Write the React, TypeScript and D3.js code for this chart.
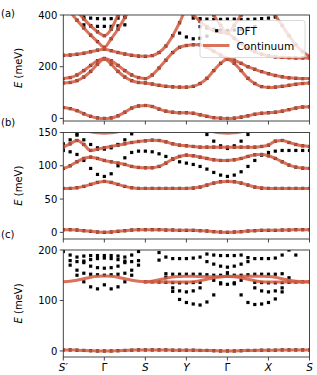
import * as d3 from 'd3';
import React from 'react';

const _ = null;
type Band = (number | null)[];

// k-path S' - Γ - S - Y - Γ - X - S, 6 samples per segment (index 0..36)
const kTickIdx = [0, 6, 12, 18, 24, 30, 36];
const kTickLabels = ["S", "Γ", "S", "Y", "Γ", "X", "S"];
const kTickPrime = [true, false, false, false, false, false, false];
const kTickItalic = [true, false, true, true, false, true, true];

// ---- panel (a) ----
const aTicks = [0, 200, 400];
const a0: Band = [42, 38,30,18,8,2,0, 2,10,24,40,48,50, 46,36,28,24,22,22, 20,14,8,3,1,0, 1,5,10,16,20,22, 24,28,34,40,44,45];
const a1: Band = [137, 139,146,160,182,210,230, 210,182,160,146,139,137, 133,128,124,122,121,121, 124,135,155,185,213,229, 213,185,155,135,123,120, 121,124,128,132,135,137];
const a2: Band = [154, 158,168,185,205,223,232, 223,205,185,168,158,154, 168,195,225,255,275,282, 285,285,275,260,245,232, 225,213,200,190,181,173, 166,161,157,155,154,154];
const a3: Band = [244, 245,248,252,258,264,268, 262,255,249,244,241,240, 243,255,280,320,370,420, 400,375,355,340,333,330, 310,290,272,258,248,242, 238,236,235,234,234,234];
const a4: Band = [_, 412,380,350,322,297,275, 308,345,390,435,_,_, _,_,_,_,_,_, _,_,450,400,360,330, 360,400,440,_,_,_, _,_,_,_,_,_];
const a5: Band = [_, _,415,385,358,335,320, 345,400,450,_,_,_, _,_,_,_,_,_, _,_,_,_,_,_, _,_,_,_,_,460, 400,360,320,285,258,240];
// DFT only
const aD0: Band = [_, _,_,362,358,356,356, 356,358,362,_,_,_, _,_,_,_,_,_, _,_,_,_,_,_, _,_,_,_,_,_, _,_,_,_,_,_];
const aD1: Band = [_, _,_,392,388,386,385, 386,388,392,_,_,_, _,_,_,_,_,_, _,_,_,_,_,_, _,_,_,_,_,_, _,_,_,_,_,_];
const aD2: Band = [_, _,_,_,_,_,_, _,_,_,_,_,_, _,_,_,_,_,_, 388,386,384,383,383,384, 384,383,383,384,386,388, 392,_,_,_,_,_];
const aD3: Band = [_, _,_,_,_,_,_, _,_,_,_,_,_, _,_,_,_,_,_, _,355,350,345,342,340, 342,345,350,355,_,_, _,_,_,_,_,_];
const aD4: Band = [_, _,_,_,_,_,_, _,_,_,_,_,_, _,_,_,_,330,315, 308,310,318,_,_,_, _,_,_,_,_,_, _,_,_,_,_,_];

// ---- panel (b) ----
const bTicks = [0, 50, 100, 150];
const b0: Band = [4, 4,3.5,2.5,1.5,0.5,0, 0.5,1.5,2.5,3.5,4,4, 4,4,3.5,3.5,3,3, 3,2.5,2,1,0.5,0, 0.5,1,2,2.5,3,3, 3,3.5,3.5,4,4,4];
const b1: Band = [66, 66,67,69,72,75,76.5, 75,72,69,67,66,66, 66,66,66,66,66,66, 66.5,68,71,74,76,76.5, 76,74,71,68,66.5,66, 66,66,66,66,66,66];
const b2: Band = [96, 100,106,111,113,111,108, 106,104,102,99,97.5,97, 97,99,104,110,114,116, 115,113,111,109,108,108, 109,111,114,116.5,117,115, 111,106,101,98,96.5,96];
const b3: Band = [128, 133,138,132,123,125,127, 129,131,133,135,136.5,137.5, 138.5,138,136,133,131,130, 129,128,128,128,128,128, 128,128,128,128,129,131, 137,138,135,132,130,129];
const b4: Band = [180, 172,162,155,151,149.5,149, 149.5,151,155,162,172,180, _,_,_,_,_,_, 180,168,158,151,149.5,149, 149.5,151,158,168,180,_, _,_,_,_,_,_];
const bD1: Band = [123, 121,117,108,96,87,84, 88,100,112,120,122,122, 121,118,114,110,106,104, 102,99,95,90,86,84, 86,91,99,108,116,120, 122,123,123,123,123,123];
const bD2: Band = [_, 160,148,139,132,127,125, 127,132,139,148,158,_, _,_,_,_,_,_, _,158,147,137,130,126, 130,137,147,158,_,_, _,_,_,_,_,_];
const bD3: Band = [133, 139,146,153,_,_,_, _,_,_,_,_,_, _,_,_,_,_,_, _,_,_,_,_,_, _,_,_,_,_,_, _,_,_,_,_,_];

// ---- panel (c) ----
const cTicks = [0, 100, 200];
const c0: Band = [2, 2,1.5,1,0.5,0,0, 0,0.5,1,1.5,2,2, 2,2,2,1.5,1.5,1.5, 1.5,1,1,0.5,0,0, 0,0.5,1,1,1.5,1.5, 1.5,2,2,2,2,2];
const c1: Band = [137, 138,140,143,146,148,148.5, 148,146,143,140,138,137, 136.5,136.5,136.5,136.5,136.5,136.5, 137,139,142,145,147,148, 147,145,142,139,137,136.5, 136.5,136.5,136.5,136.5,136.5,137];
const c2: Band = [_, _,_,_,_,_,_, _,_,_,_,_,137, 138,141,144,146.5,147.5,148, 148,147.5,147,147,147,147.5, 148,148,148,148,148,147.5, 146,143,140,138,137,137];
const cL1: Band = [_, _,150,137,127,123,131, 123,127,137,150,_,_, _,_,_,_,_,_, _,_,_,_,_,_, _,_,_,_,_,_, _,_,_,_,_,_];
const cL2: Band = [_, 170,160,154,152,151,150, 151,152,154,160,170,_, _,_,_,_,_,_, _,_,_,_,_,_, _,_,_,_,_,_, _,_,_,_,_,_];
const cL3: Band = [_, _,_,175,168,165,164, 165,168,175,_,_,_, _,_,_,_,_,_, _,_,_,_,_,_, _,_,_,_,_,_, _,_,_,_,_,_];
const cL4: Band = [197, 190,186,188,189,189,189, 189,188,186,190,197,_, _,_,_,_,_,_, _,_,_,_,_,_, _,_,_,_,_,_, _,_,_,_,_,_];
const cL5: Band = [_, 179,177,178,181,183,184, 183,181,178,177,179,_, _,_,_,_,_,_, _,_,_,_,_,_, _,_,_,_,_,_, _,_,_,_,_,_];
const cW: Band = [_, _,_,_,_,_,_, _,_,_,_,_,_, 240,180,146,118,102,96, 93,91,97,111,133,155, 133,111,96,92,93,96, 103,117,145,190,250,_];
const cRa: Band = [_, _,_,_,_,_,_, _,_,_,_,_,_, _,195,186,183,183,183, 184,186,192,190,189,189, 189,190,185,183,183,183, 184,190,200,_,_,_];
const cRb: Band = [_, _,_,_,_,_,_, _,_,_,_,_,_, _,_,_,_,_,_, _,_,177,172,168,166, 168,172,177,_,_,_, _,_,_,_,_,_];
const cRc: Band = [_, _,_,_,_,_,_, _,_,_,_,_,_, _,_,153,152,152,152, 152,152,151,150,150,150, 150,150,151,152,152,152, 152,153,_,_,_,_];
const cRd: Band = [_, _,_,_,_,_,_, _,_,_,_,_,137, 137,136.5,136,135.5,135,135, 135.5,136,_,_,_,_, _,_,_,136,135.5,135, 135,135.5,136,136.5,137,137];
const cRe: Band = [_, _,_,_,_,_,_, _,_,_,_,_,_, _,_,_,125,119,117, 119,125,_,_,_,_, _,_,_,125,119,117, 119,125,_,_,_,_];
const cRf: Band = [_, _,_,_,_,_,_, _,_,_,_,_,_, _,_,_,_,_,_, _,_,_,140,135,132, 135,140,_,_,_,_, _,_,_,_,_,_];

const panels = [
  { tag: "(a)", ylim: [-10, 400], ticks: aTicks, both: [a0, a1, a2, a3, a4, a5], dft: [aD0, aD1, aD2, aD3, aD4], cont: [] as Band[] },
  { tag: "(b)", ylim: [-10, 150], ticks: bTicks, both: [b0, b1, b2, b3], dft: [bD1, bD2, bD3], cont: [b4] },
  { tag: "(c)", ylim: [-12, 200], ticks: cTicks, both: [c0], dft: [cL1, cL2, cL3, cL4, cL5, cW, cRa, cRb, cRc, cRd, cRe, cRf], cont: [c1, c2] },
];

// layout
const W = 317, H = 375;
const X0 = 63.3, X1 = 309.5;
const boxes = [
  { top: 15, bottom: 121, tagY: 17 },
  { top: 132.5, bottom: 239, tagY: 125.5 },
  { top: 250, bottom: 357, tagY: 237.5 },
];
const RED = "#d35940";
const FONT = "DejaVu Sans, sans-serif";

const x = d3.scaleLinear().domain([0, 36]).range([X0, X1]);

function Panel({ p, box, idx }: any) {
  const y = d3.scaleLinear().domain(p.ylim).range([box.bottom, box.top]);
  const line = d3.line<number | null>()
    .defined(v => v != null)
    .x((_v, i) => x(i))
    .y(v => y(v as number))
    .curve(d3.curveMonotoneX);
  const clipId = "clip" + idx;
  const sq = 3.2;
  const dftBands: Band[] = [...p.dft, ...p.both];
  const contBands: Band[] = [...p.cont, ...p.both];

  return (
    <g>
      <defs>
        <clipPath id={clipId}>
          <rect x={X0} y={box.top} width={X1 - X0} height={box.bottom - box.top} />
        </clipPath>
      </defs>
      <g clipPath={`url(#${clipId})`}>
        {dftBands.map((b, bi) =>
          b.map((v, i) =>
            v == null || v < p.ylim[0] - 5 || v > p.ylim[1] + 5 ? null : (
              <rect key={bi + "-" + i} x={x(i) - sq / 2} y={y(v) - sq / 2} width={sq} height={sq} fill="#000" />
            )
          )
        )}
        {contBands.map((b, bi) => (
          <path key={"c" + bi} d={line(b) || ""} fill="none" stroke={RED} strokeWidth={3} strokeOpacity={0.85} strokeLinecap="round" />
        ))}
      </g>
      <rect x={X0} y={box.top} width={X1 - X0} height={box.bottom - box.top} fill="none" stroke="#333" strokeWidth={0.9} />
      {/* y ticks */}
      {p.ticks.map((t: number) => (
        <g key={t}>
          <line x1={X0 - 3.5} x2={X0} y1={y(t)} y2={y(t)} stroke="#333" strokeWidth={0.9} />
          <text x={X0 - 6} y={y(t) + 3.6} textAnchor="end" fontSize={10} fontFamily={FONT} fill="#000">{t}</text>
        </g>
      ))}
      {/* x ticks */}
      {kTickIdx.map((k, i) => (
        <line key={"xt" + i} x1={x(k)} x2={x(k)} y1={box.bottom} y2={box.bottom + 3.5} stroke="#333" strokeWidth={0.9} />
      ))}
      <text transform={`translate(18,${(box.top + box.bottom) / 2}) rotate(-90)`} textAnchor="middle" fontSize={10} fontFamily={FONT} dy="0.35em">
        <tspan fontStyle="italic">E</tspan> (meV)
      </text>
      <text x={1} y={box.tagY} fontSize={10} fontFamily={FONT}>{p.tag}</text>
    </g>
  );
}

export default function App() {
  return (
    <svg width={W} height={H} style={{ position: "absolute", left: 0, top: 0, background: "#fff" }}>
      {panels.map((p, i) => <Panel key={i} p={p} box={boxes[i]} idx={i} />)}
      {kTickIdx.map((k, i) => (
        <text key={"xl" + i} x={x(k)} y={371} textAnchor="middle" fontSize={10.5} fontFamily={FONT} fontStyle={kTickItalic[i] ? "italic" : "normal"}>
          {kTickLabels[i]}{kTickPrime[i] ? "′" : ""}
        </text>
      ))}
      {/* legend */}
      <g fontFamily={FONT} fontSize={10.5}>
        <rect x={200} y={20.5} width={105} height={37} rx={2.5} fill="#fff" fillOpacity={0.8} stroke="#d0d0d0" strokeWidth={0.8} />
        <rect x={215.1} y={29.1} width={3.2} height={3.2} fill="#000" />
        <text x={236.5} y={34.6}>DFT</text>
        <line x1={203} x2={229.5} y1={45.5} y2={45.5} stroke={RED} strokeWidth={3} strokeOpacity={0.85} />
        <text x={236.5} y={49.8}>Continuum</text>
      </g>
    </svg>
  );
}
